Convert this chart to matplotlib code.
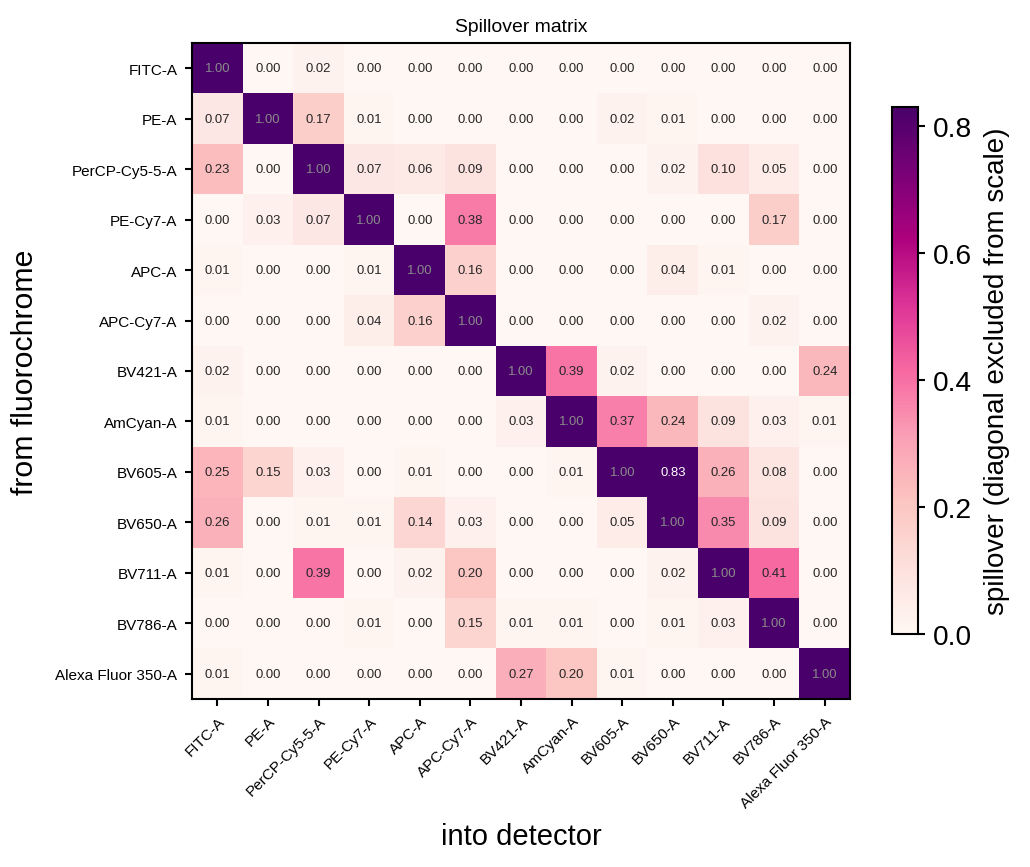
import numpy as np
import matplotlib
matplotlib.use("Agg")
import matplotlib.pyplot as plt

plt.rcParams['font.family'] = ['Liberation Sans', 'DejaVu Sans']

channels = ['FITC-A', 'PE-A', 'PerCP-Cy5-5-A', 'PE-Cy7-A', 'APC-A', 'APC-Cy7-A',
            'BV421-A', 'AmCyan-A', 'BV605-A', 'BV650-A', 'BV711-A', 'BV786-A',
            'Alexa Fluor 350-A']

# rows: from fluorochrome, columns: into detector
spill = [
    [1.00, 0.00, 0.02, 0.00, 0.00, 0.00, 0.00, 0.00, 0.00, 0.00, 0.00, 0.00, 0.00],
    [0.07, 1.00, 0.17, 0.01, 0.00, 0.00, 0.00, 0.00, 0.02, 0.01, 0.00, 0.00, 0.00],
    [0.23, 0.00, 1.00, 0.07, 0.06, 0.09, 0.00, 0.00, 0.00, 0.02, 0.10, 0.05, 0.00],
    [0.00, 0.03, 0.07, 1.00, 0.00, 0.38, 0.00, 0.00, 0.00, 0.00, 0.00, 0.17, 0.00],
    [0.01, 0.00, 0.00, 0.01, 1.00, 0.16, 0.00, 0.00, 0.00, 0.04, 0.01, 0.00, 0.00],
    [0.00, 0.00, 0.00, 0.04, 0.16, 1.00, 0.00, 0.00, 0.00, 0.00, 0.00, 0.02, 0.00],
    [0.02, 0.00, 0.00, 0.00, 0.00, 0.00, 1.00, 0.39, 0.02, 0.00, 0.00, 0.00, 0.24],
    [0.01, 0.00, 0.00, 0.00, 0.00, 0.00, 0.03, 1.00, 0.37, 0.24, 0.09, 0.03, 0.01],
    [0.25, 0.15, 0.03, 0.00, 0.01, 0.00, 0.00, 0.01, 1.00, 0.83, 0.26, 0.08, 0.00],
    [0.26, 0.00, 0.01, 0.01, 0.14, 0.03, 0.00, 0.00, 0.05, 1.00, 0.35, 0.09, 0.00],
    [0.01, 0.00, 0.39, 0.00, 0.02, 0.20, 0.00, 0.00, 0.00, 0.02, 1.00, 0.41, 0.00],
    [0.00, 0.00, 0.00, 0.01, 0.00, 0.15, 0.01, 0.01, 0.00, 0.01, 0.03, 1.00, 0.00],
    [0.01, 0.00, 0.00, 0.00, 0.00, 0.00, 0.27, 0.20, 0.01, 0.00, 0.00, 0.00, 1.00],
]

M = np.array(spill)
n = len(channels)
off = M[~np.eye(n, dtype=bool)]
vmax = off.max()

fig = plt.figure(figsize=(10.3 / 1.5, 8.68 / 1.5), dpi=150)
ax = fig.add_axes([192 / 1030, 1 - 700 / 868, 658 / 1030, 656 / 868])
im = ax.imshow(M, cmap='RdPu', vmin=0, vmax=vmax, aspect='auto')

for i in range(n):
    for j in range(n):
        v = M[i, j]
        if i == j:
            col = '#8a8a8a'
        elif v / vmax > 0.7:
            col = 'white'
        else:
            col = '#262626'
        ax.text(j, i, f"{v:.2f}", ha='center', va='center', fontsize=6.3, color=col)

ax.set_xticks(range(n))
ax.set_yticks(range(n))
ax.set_xticklabels(channels, rotation=45, ha='right', rotation_mode='anchor', fontsize=7.3)
ax.set_yticklabels(channels, fontsize=7.3)
ax.tick_params(length=3.5, width=1)
for s in ax.spines.values():
    s.set_linewidth(1)
ax.set_title('Spillover matrix', fontsize=9.3, pad=6)
ax.set_xlabel('into detector', fontsize=14, labelpad=6)
ax.set_ylabel('from fluorochrome', fontsize=14.5, labelpad=8)

cax = fig.add_axes([892 / 1030, 1 - 635 / 868, 26 / 1030, 527 / 868])
cb = fig.colorbar(im, cax=cax)
cb.set_ticks([0.0, 0.2, 0.4, 0.6, 0.8])
cb.ax.tick_params(labelsize=13.5, length=3.5, width=1)
cb.outline.set_linewidth(1)
cb.set_label('spillover (diagonal excluded from scale)', fontsize=13.3, labelpad=6)

fig.savefig('out.png', dpi=150)
